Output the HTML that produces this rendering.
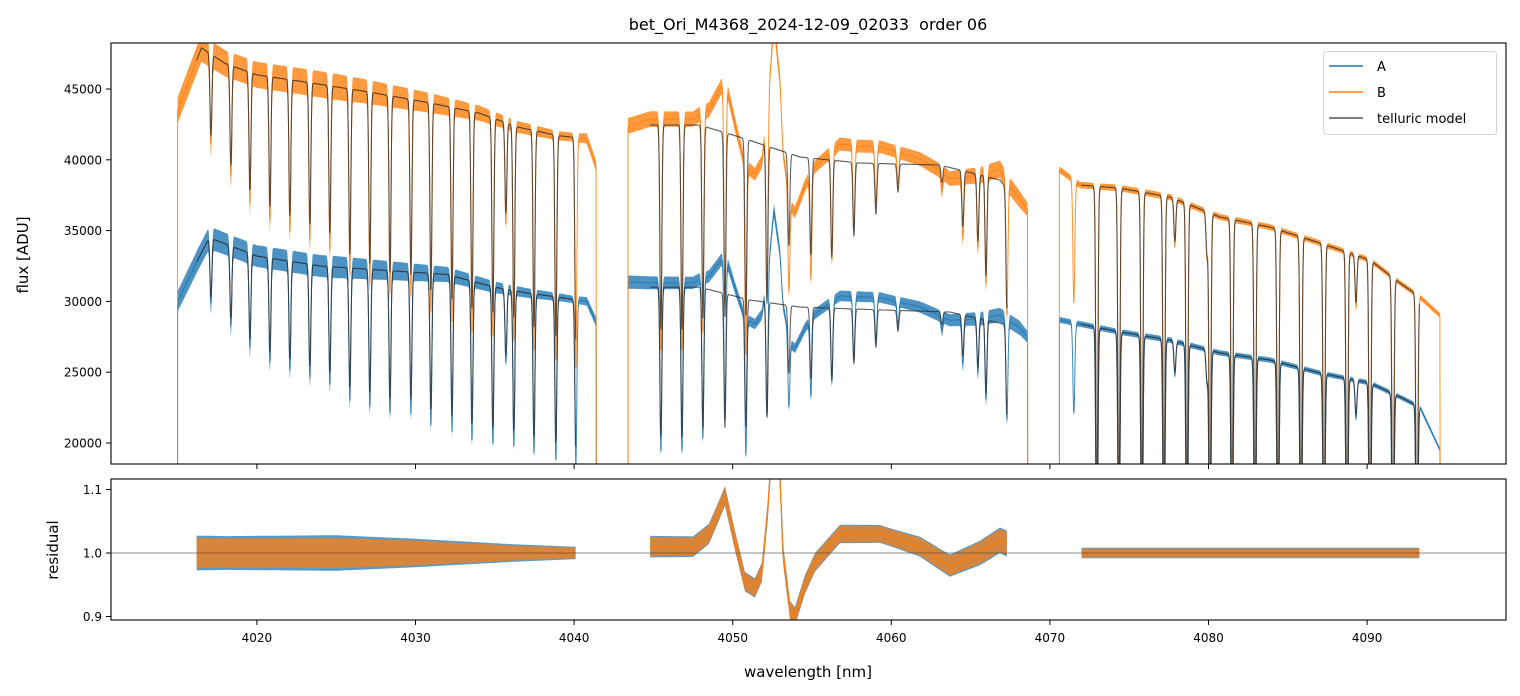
<!DOCTYPE html>
<html><head><meta charset="utf-8">
<style>
html,body{margin:0;padding:0;background:#fff;}
svg{display:block;font-family:"DejaVu Sans","Liberation Sans",sans-serif;}
</style></head>
<body>
<svg id="chart" width="1520" height="696" viewBox="0 0 1520 696">
  <defs>
    <clipPath id="clipTop"><rect x="111" y="43" width="1395" height="421"/></clipPath>
    <clipPath id="clipRes"><rect x="111" y="479" width="1395" height="141"/></clipPath>
  </defs>
  <rect width="1520" height="696" fill="#fff"/>
  <text x="808" y="30" text-anchor="middle" font-size="16" fill="#000" style="white-space:pre">bet_Ori_M4368_2024-12-09_02033  order 06</text>
  <g id="topMarks" clip-path="url(#clipTop)"></g>
  <g id="resMarks" clip-path="url(#clipRes)"></g>
  <g id="axes"></g>
  <text transform="translate(28,255) rotate(-90)" text-anchor="middle" font-size="15">flux [ADU]</text>
  <text transform="translate(58,550) rotate(-90)" text-anchor="middle" font-size="15">residual</text>
  <text x="808" y="677" text-anchor="middle" font-size="15">wavelength [nm]</text>
  <g>
    <rect x="1323.5" y="51.5" width="173" height="83" rx="3" fill="#fff" fill-opacity="0.8" stroke="#d6d6d6"/>
    <line x1="1329" y1="66" x2="1363" y2="66" stroke="#1f77b4" stroke-width="1.5"/>
    <text x="1377" y="71" font-size="13">A</text>
    <line x1="1329" y1="92" x2="1363" y2="92" stroke="#ff7f0e" stroke-width="1.5"/>
    <text x="1377" y="97" font-size="13">B</text>
    <line x1="1329" y1="118" x2="1363" y2="118" stroke="#555" stroke-width="1.5"/>
    <text x="1377" y="123" font-size="13">telluric model</text>
  </g>
</svg>
<script>
// ---- data ----
const xTicks = [4020,4030,4040,4050,4060,4070,4080,4090];
const yTicks = [20000,25000,30000,35000,40000,45000];
const rTicks = [0.9,1.0,1.1];
const segStart = [4015.0,4043.4,4070.6];
const segEnd = [4041.4,4068.6,4094.6];
const resStart = [4016.2,4044.8,4072.0];
const resEnd = [4040.1,4067.3,4093.3];
const lineW = [4017.10,4018.36,4019.56,4020.82,4022.08,4023.34,4024.60,4025.86,4027.12,4028.39,4029.71,4030.97,4032.30,4033.56,4034.88,4035.70,4036.20,4037.47,4038.85,4040.11,
 4045.47,4046.80,4048.12,4049.51,4050.83,4052.16,4053.54,4054.93,4056.25,4057.64,4059.03,4060.42,4063.19,4064.51,4065.46,4065.97,4067.29,
 4071.51,4072.96,4074.35,4075.80,4077.19,4077.88,4078.64,4079.90,4080.09,4081.48,4082.93,4084.38,4085.83,4087.28,4088.73,4089.30,4090.18,4091.63,4093.14];
const lineD = [0.12,0.15,0.18,0.20,0.21,0.22,0.23,0.26,0.27,0.28,0.28,0.30,0.31,0.32,0.32,0.15,0.32,0.33,0.34,0.35,
 0.34,0.34,0.32,0.31,0.30,0.27,0.16,0.17,0.17,0.13,0.09,0.05,0.03,0.10,0.12,0.18,0.22,
 0.20,0.62,0.62,0.62,0.62,0.08,0.62,0.08,0.62,0.62,0.62,0.62,0.62,0.62,0.62,0.10,0.62,0.62,0.62];
const contBw = [4015.0,4016.5,4018,4020,4023,4027,4031,4034,4036.5,4039,4040.8,4041.4,
 4043.39,4044.78,4047.93,4050.45,4054.24,4058.02,4063.06,4066.85,4067.48,4068.6,
 4070.63,4071.89,4074.41,4077.57,4080.72,4083.87,4087.03,4090.18,4092.07,4093.33,4094.6];
const contBv = [43500,47900,46800,46000,45500,44800,44000,43300,42300,41700,41500,39500,
 42300,42450,42450,41600,40200,39770,39630,38570,37650,36500,
 39280,38220,38000,37370,35960,35250,34120,32920,31300,30310,29000];
const contAw = [4015.0,4016.3,4017,4020,4024,4028,4032,4035,4037,4039,4040.8,4041.4,
 4043.39,4044.78,4047.93,4051.08,4054.24,4059.28,4063.69,4066.85,4068.11,4068.6,
 4070.63,4074.41,4077.57,4080.72,4083.87,4087.03,4090.18,4092.07,4093.33,4094.6];
const contAv = [30000,33000,34500,33200,32500,32200,31900,31000,30600,30300,30000,28500,
 31300,31000,31000,30100,29600,29400,29250,28470,27980,27500,
 28690,27840,27270,26360,25860,24940,24240,23250,22540,19500];
const profW = [4010,4043.0,4044.8,4047.5,4048.5,4049.19,4049.51,4050.14,4050.77,4051.40,4051.84,4052.22,4052.6,4052.98,4053.17,4053.61,4053.92,4054.55,4055.18,4056.76,4059.28,4061.80,4063.69,4065.59,4066.85,4068.5,4100];
const profV = [1.0,1.0,1.01,1.01,1.03,1.07,1.09,1.02,0.955,0.945,0.97,1.07,1.22,1.12,1.0,0.91,0.90,0.95,0.985,1.03,1.03,1.01,0.98,1.0,1.02,1.0,1.0];
const noiseW = [4015,4018,4025,4030,4036,4040,4043,4050,4060,4066,4068,4070,4094];
const noiseA = [0.04,0.038,0.04,0.032,0.02,0.014,0.025,0.022,0.02,0.028,0.03,0.012,0.012];
const noiseB = [0.035,0.033,0.034,0.028,0.017,0.012,0.022,0.02,0.018,0.025,0.027,0.01,0.01];

// ---- scales ----
const X0 = 4010.8, XPX = 15.86;
const xS = w => 111 + (w - X0) * XPX;
const yT = v => 443 - (v - 20000) * 0.01416;
const yR = r => 553 - (r - 1) * 635;
const NS = 'http://www.w3.org/2000/svg';

function interp(ws, vs, w){
  if (w <= ws[0]) return vs[0];
  for (let i = 1; i < ws.length; i++){
    if (w <= ws[i]){ const t = (w - ws[i-1])/(ws[i]-ws[i-1]); return vs[i-1] + t*(vs[i]-vs[i-1]); }
  }
  return vs[vs.length-1];
}
function transmission(w, scale){
  let t = 1;
  for (let i = 0; i < lineW.length; i++){
    const dx = (w - lineW[i]) / 0.085;
    if (dx > -5 && dx < 5){ t *= 1 - Math.min(0.97, lineD[i]*scale) * Math.exp(-dx*dx); }
  }
  return t;
}
function el(tag, attrs, parent){
  const e = document.createElementNS(NS, tag);
  for (const k in attrs) e.setAttribute(k, attrs[k]);
  parent.appendChild(e); return e;
}
const topG = document.getElementById('topMarks');
const resG = document.getElementById('resMarks');
const axesG = document.getElementById('axes');

const series = [
  {name:'a', cw:contAw, cv:contAv, noise:noiseA, color:'#1f77b4'},
  {name:'b', cw:contBw, cv:contBv, noise:noiseB, color:'#ff7f0e'}
];
const STEP = 0.012;

series.forEach(s => {
  for (let k = 0; k < segStart.length; k++){
    const up = [], lo = [], mid = [];
    for (let w = segStart[k]; w <= segEnd[k]; w += STEP){
      const m = interp(s.cw, s.cv, w) * transmission(w, 1.12) * interp(profW, profV, w);
      const n = interp(noiseW, s.noise, w) * 0.6;
      up.push(xS(w).toFixed(1)+','+yT(m*(1+n)).toFixed(1));
      lo.push(xS(w).toFixed(1)+','+yT(m*(1-n)).toFixed(1));
      mid.push(xS(w).toFixed(1)+','+yT(m).toFixed(1));
    }
    const bx0 = xS(segStart[k]).toFixed(1), bx1 = xS(segEnd[k]).toFixed(1);
    const band = el('polygon', {points: [bx0+',480'].concat(up, [bx1+',480']).join(' ') + ' ' + lo.reverse().join(' '),
      fill:s.color, 'fill-opacity':0.8, stroke:'none'}, topG);
    
    
    const ln = el('polyline', {points: [bx0+',480'].concat(mid, [bx1+',480']).join(' '),
      fill:'none', stroke:s.color, 'stroke-width':1, 'stroke-opacity':0.85}, topG);
    
    
  }
});
series.forEach(s => {
  for (let k = 0; k < segStart.length; k++){
    const pts = [];
    for (let w = resStart[k]; w <= resEnd[k]; w += STEP/2){
      const m = interp(s.cw, s.cv, w) * transmission(w, 1.0);
      pts.push(xS(w).toFixed(1)+','+yT(m).toFixed(1));
    }
    const ml = el('polyline', {points: pts.join(' '), fill:'none', stroke:'#2b2b2b', 'stroke-width':1.1, 'stroke-opacity':0.75}, topG);
    
    
  }
});
series.forEach(s => {
  for (let k = 0; k < resStart.length; k++){
    const up = [], lo = [], mid = [];
    for (let w = resStart[k]; w <= resEnd[k]; w += STEP){
      const r = interp(profW, profV, w);
      const n = interp(noiseW, s.noise, w) * 0.7;
      up.push(xS(w).toFixed(1)+','+yR(r+n).toFixed(1));
      lo.push(xS(w).toFixed(1)+','+yR(r-n).toFixed(1));
      mid.push(xS(w).toFixed(1)+','+yR(r).toFixed(1));
    }
    const band = el('polygon', {points: up.join(' ') + ' ' + lo.reverse().join(' '),
      fill:s.color, 'fill-opacity':0.75, stroke:'none'}, resG);
    
    
    const ln = el('polyline', {points: mid.join(' '), fill:'none', stroke:s.color, 'stroke-width':1.2}, resG);
    
    
  }
});
const ref = el('line', {x1:111, x2:1506, y1:yR(1), y2:yR(1), stroke:'#444', 'stroke-width':0.8, 'stroke-opacity':0.8}, resG);



const f1 = el('rect', {x:111, y:43, width:1395, height:421, fill:'none', stroke:'#000', 'stroke-width':1.1}, axesG);


const f2 = el('rect', {x:111, y:479, width:1395, height:141, fill:'none', stroke:'#000', 'stroke-width':1.1}, axesG);


xTicks.forEach(t => {
  const x = xS(t);
  el('line', {x1:x, x2:x, y1:464, y2:469, stroke:'#000', 'stroke-width':1}, axesG);
  el('line', {x1:x, x2:x, y1:620, y2:625, stroke:'#000', 'stroke-width':1}, axesG);
  const tx = el('text', {x:x, y:642, 'text-anchor':'middle', 'font-size':12}, axesG);
  tx.textContent = t;
  
  
});
yTicks.forEach(t => {
  const y = yT(t);
  el('line', {x1:106, x2:111, y1:y, y2:y, stroke:'#000', 'stroke-width':1}, axesG);
  const tx = el('text', {x:102, y:y+4.5, 'text-anchor':'end', 'font-size':12}, axesG);
  tx.textContent = t;
  
  
});
rTicks.forEach(t => {
  const y = yR(t);
  el('line', {x1:106, x2:111, y1:y, y2:y, stroke:'#000', 'stroke-width':1}, axesG);
  const tx = el('text', {x:102, y:y+4.5, 'text-anchor':'end', 'font-size':12}, axesG);
  tx.textContent = t.toFixed(1);
  
  
});
</script>
</body></html>
